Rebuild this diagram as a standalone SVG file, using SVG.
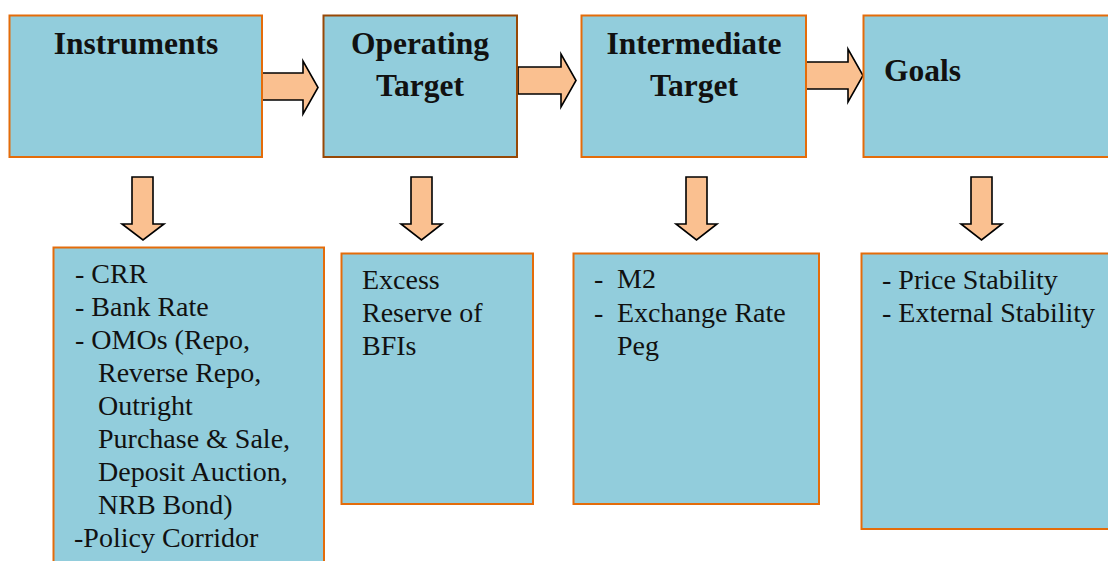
<svg xmlns="http://www.w3.org/2000/svg" width="1108" height="561" viewBox="0 0 1108 561">
  <style>
    .box { fill: #92CDDC; stroke: #E46C0A; stroke-width: 2; }
    .box-dark { fill: #92CDDC; stroke: #974806; stroke-width: 2; }
    .arrow { fill: #FAC090; stroke: #000000; stroke-width: 1.6; stroke-linejoin: miter; }
    .title { font-family: "Liberation Serif", "Times New Roman", serif; font-weight: bold; font-size: 31.5px; fill: #111111; }
    .body { font-family: "Liberation Serif", "Times New Roman", serif; font-size: 28px; fill: #111111; }
  </style>

  <rect width="1108" height="561" fill="#FFFFFF"/>

  <!-- connectors: block arrows between the stages and down to each detail list -->
  <g id="connectors">
    <polygon class="arrow" points="262,73 303,73 303,61 318,87.5 303,114 303,100 262,100"/>
    <polygon class="arrow" points="518,67 561,67 561,54 576,80.5 561,107 561,94 518,94"/>
    <polygon class="arrow" points="806,62 848,62 848,49 863,75.5 848,102 848,89 806,89"/>

    <polygon class="arrow" points="132,177 153,177 153,224 164,224 143,240 122,224 132,224"/>
    <polygon class="arrow" points="411,177 432,177 432,224 442,224 421.5,240 401,224 411,224"/>
    <polygon class="arrow" points="686,177 707,177 707,224 717,224 696.5,240 676,224 686,224"/>
    <polygon class="arrow" points="971,177 992,177 992,224 1002,224 981.5,240 961,224 971,224"/>
  </g>

  <!-- top row: stages of the transmission chain -->
  <g id="instruments">
    <rect class="box" x="9.5" y="15.5" width="252.5" height="141.5"/>
    <text class="title" x="136" y="54" text-anchor="middle">Instruments</text>
  </g>

  <g id="operating-target">
    <rect class="box-dark" x="323.5" y="15.5" width="193.5" height="141.5"/>
    <text class="title" x="420" y="54" text-anchor="middle">Operating</text>
    <text class="title" x="420" y="96" text-anchor="middle">Target</text>
  </g>

  <g id="intermediate-target">
    <rect class="box" x="581.5" y="15.5" width="224.5" height="141.5"/>
    <text class="title" x="694" y="54" text-anchor="middle">Intermediate</text>
    <text class="title" x="694" y="96" text-anchor="middle">Target</text>
  </g>

  <g id="goals">
    <rect class="box" x="863.5" y="15.5" width="250" height="141.5"/>
    <text class="title" x="884" y="81">Goals</text>
  </g>

  <!-- bottom row: contents of each stage -->
  <g id="instruments-list">
    <rect class="box" x="53.5" y="247.5" width="270.5" height="330"/>
    <text class="body" x="75" y="283">- CRR</text>
    <text class="body" x="75" y="316">- Bank Rate</text>
    <text class="body" x="75" y="349">- OMOs (Repo,</text>
    <text class="body" x="98" y="382">Reverse Repo,</text>
    <text class="body" x="98" y="415">Outright</text>
    <text class="body" x="98" y="448">Purchase &amp; Sale,</text>
    <text class="body" x="98" y="481">Deposit Auction,</text>
    <text class="body" x="98" y="514">NRB Bond)</text>
    <text class="body" x="74" y="547">-Policy Corridor</text>
  </g>

  <g id="operating-target-list">
    <rect class="box" x="341.5" y="253.5" width="191.5" height="250.5"/>
    <text class="body" x="362" y="289">Excess</text>
    <text class="body" x="362" y="322">Reserve of</text>
    <text class="body" x="362" y="355">BFIs</text>
  </g>

  <g id="intermediate-target-list">
    <rect class="box" x="573.5" y="253.5" width="245.5" height="250.5"/>
    <text class="body" x="594" y="288">-</text>
    <text class="body" x="617" y="288">M2</text>
    <text class="body" x="594" y="322">-</text>
    <text class="body" x="617" y="322">Exchange Rate</text>
    <text class="body" x="617" y="355">Peg</text>
  </g>

  <g id="goals-list">
    <rect class="box" x="861.5" y="253.5" width="260" height="275.5"/>
    <text class="body" x="882" y="289">- Price Stability</text>
    <text class="body" x="882" y="322">- External Stability</text>
  </g>
</svg>
